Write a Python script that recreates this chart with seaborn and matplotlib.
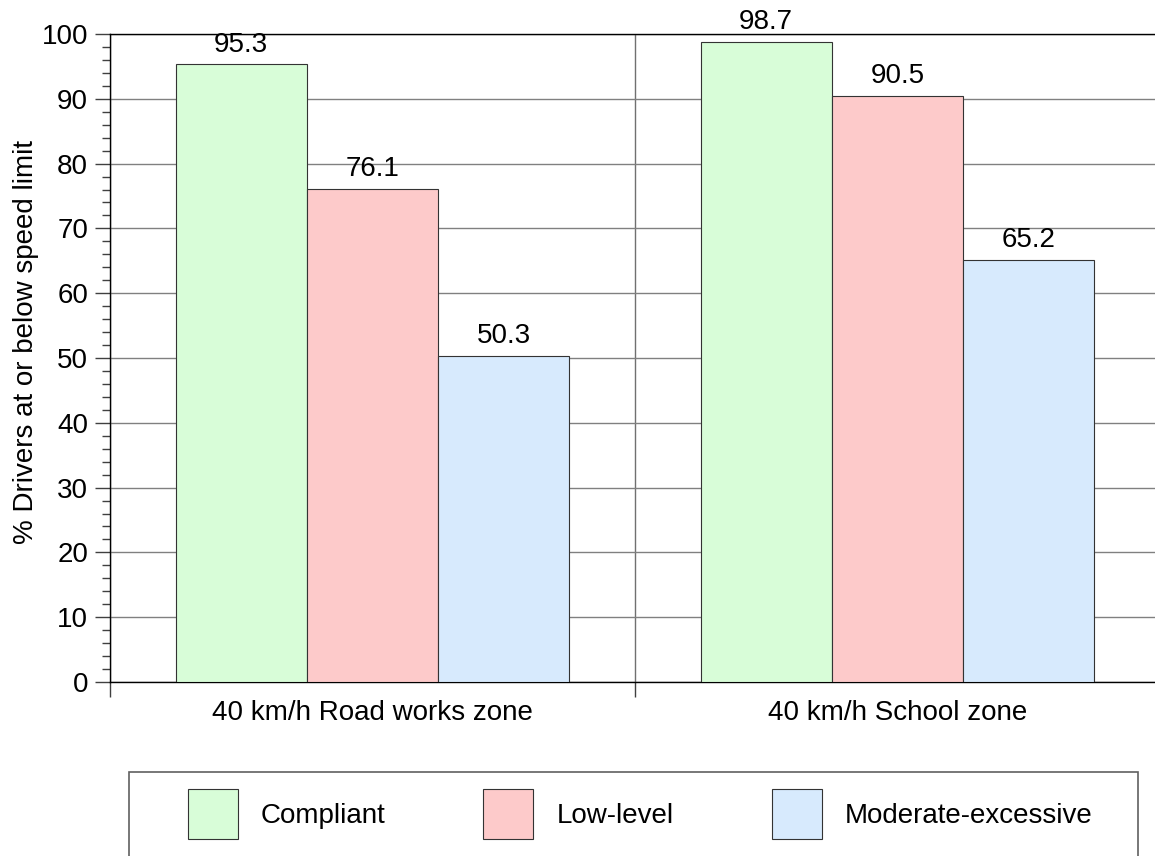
import matplotlib
matplotlib.use("Agg")
import matplotlib.pyplot as plt
from matplotlib.patches import Rectangle
from matplotlib.ticker import MultipleLocator, FixedLocator, NullFormatter
import seaborn as sns
import pandas as pd

# Survey results: share of drivers at or below the posted limit
zones = ["40 km/h Road works zone", "40 km/h School zone"]
groups = ["Compliant", "Low-level", "Moderate-excessive"]
compliant = [95.3, 98.7]
low_level = [76.1, 90.5]
moderate_excessive = [50.3, 65.2]
colors = ["#d8fdd8", "#fdcaca", "#d7eafd"]

df = pd.DataFrame({
    "zone": zones * 3,
    "group": [groups[0]] * 2 + [groups[1]] * 2 + [groups[2]] * 2,
    "pct": compliant + low_level + moderate_excessive,
})

sns.set_style("ticks")
plt.rcParams["font.family"] = ["Liberation Sans", "DejaVu Sans"]
plt.rcParams["text.color"] = "black"
plt.rcParams["axes.labelcolor"] = "black"
plt.rcParams["xtick.labelcolor"] = "black"
plt.rcParams["ytick.labelcolor"] = "black"

FS = 20
W, H = 1155, 856
fig = plt.figure(figsize=(W / 100, H / 100), dpi=100)
ax = fig.add_axes([110 / W, (H - 682) / H, 1050 / W, 648 / H])

sns.barplot(data=df, x="zone", y="pct", hue="group", hue_order=groups,
            palette=colors, width=0.75, gap=0, edgecolor="#333333",
            linewidth=0.8, saturation=1, ax=ax, zorder=3)

ax.set_xlim(-0.5, 1.5)
ax.set_ylim(0, 100)

# value labels above bars
for cont in ax.containers:
    ax.bar_label(cont, fmt="%.1f", padding=5, fontsize=FS, color="black", zorder=4)

# y axis: major every 10, minor every 2
ax.yaxis.set_major_locator(MultipleLocator(10))
ax.yaxis.set_minor_locator(MultipleLocator(2))
ax.tick_params(axis="y", which="major", length=10.8, width=1, color="#404040",
               labelsize=FS, pad=5)
ax.tick_params(axis="y", which="minor", length=5.8, width=1, color="#404040")
ax.yaxis.grid(True, which="major", color="#808080", lw=1)

# x axis: separators between categories, labels centred on groups
ax.xaxis.set_major_locator(FixedLocator([-0.5, 0.5, 1.5]))
ax.xaxis.set_major_formatter(NullFormatter())
ax.xaxis.set_minor_locator(FixedLocator([0, 1]))
ax.set_xticklabels(zones, minor=True)
ax.tick_params(axis="x", which="major", length=10.8, width=1, color="#404040")
ax.tick_params(axis="x", which="minor", length=0, labelsize=FS, pad=13)
ax.xaxis.grid(True, which="major", color="#707070", lw=1)
ax.set_axisbelow(True)

ax.set_xlabel("")
ax.set_ylabel("% Drivers at or below speed limit", fontsize=FS)
ax.yaxis.set_label_coords(-0.0676, 0.525)

for side in ("left", "bottom", "top"):
    ax.spines[side].set_color("black")
    ax.spines[side].set_linewidth(1)
ax.spines["right"].set_visible(False)

# legend below the plot in its own framed box
handles, labels = ax.get_legend_handles_labels()
ax.get_legend().remove()
fig.patches.append(Rectangle((129 / W, (H - 860) / H), (1138 - 129) / W, 88 / H,
                             transform=fig.transFigure, fill=False,
                             edgecolor="#606060", lw=1.2))
fig.legend(handles, labels, loc="center", bbox_to_anchor=(640 / W, 1 - 814 / H),
           ncol=3, frameon=False, fontsize=FS, handlelength=1.8,
           handleheight=2.39, handletextpad=0.83, columnspacing=3.53,
           borderpad=0)

fig.savefig("out.png", dpi=100)
